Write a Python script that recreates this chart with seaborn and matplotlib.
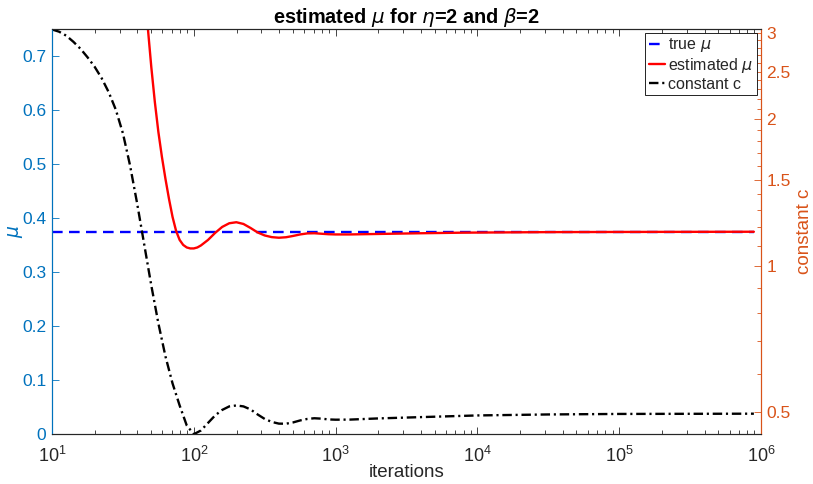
import numpy as np
import pandas as pd
import matplotlib
matplotlib.use("Agg")
import matplotlib.pyplot as plt
import seaborn as sns
from matplotlib.ticker import FixedLocator, FixedFormatter, LogLocator, NullFormatter, NullLocator

# ---- data ----
iters_c = [10, 11.22, 12.59, 14.13, 15.85, 17.78, 19.95, 22.39, 25.12, 28.18, 31.62, 35.48,
           39.81, 44.67, 50.12, 56.23, 63.10, 70.79, 79.43, 89.13, 100, 112.2, 125.9, 141.3,
           158.5, 177.8, 199.5, 223.9, 251.2, 281.8, 316.2, 354.8, 398.1, 446.7, 501.2,
           562.3, 631.0, 707.9, 794.3, 891.3, 1000, 1259, 1995, 3981, 1e4, 31623, 1e5, 891251]
c_vals = [3.053, 3.021, 2.965, 2.881, 2.788, 2.678, 2.561, 2.425, 2.269, 2.089, 1.869, 1.607,
          1.343, 1.106, 0.9112, 0.7615, 0.6513, 0.5733, 0.5166, 0.4701, 0.451, 0.4590, 0.4756, 0.4928,
          0.5058, 0.5143, 0.5166, 0.5143, 0.5070, 0.4951, 0.4847, 0.4779, 0.4741, 0.4739, 0.4768,
          0.4813, 0.4847, 0.4863, 0.4854, 0.4836, 0.4830, 0.4832, 0.4859, 0.4889, 0.4928, 0.4951, 0.4963, 0.4969]

iters_mu = [45.71, 47.32, 50.12, 53.09, 56.23, 59.57, 63.10, 66.83, 70.79, 74.99, 79.43, 84.14,
            89.13, 94.41, 100, 105.9, 112.2, 125.9, 141.3, 158.5, 177.8, 199.5, 223.9, 251.2,
            281.8, 316.2, 354.8, 398.1, 446.7, 501.2, 562.3, 631.0, 707.9, 794.3, 891.3, 1000,
            1259, 1995, 3981, 7943, 31623, 1e5, 891251]
mu_vals = [0.806, 0.7543, 0.6802, 0.6154, 0.5598, 0.5135, 0.4728, 0.4357, 0.4024, 0.3765, 0.3598, 0.3506,
           0.3459, 0.3441, 0.3441, 0.3459, 0.3496, 0.3598, 0.3728, 0.3839, 0.3907, 0.3926, 0.3894, 0.3820,
           0.3737, 0.3681, 0.3650, 0.3639, 0.3648, 0.3672, 0.3700, 0.3719, 0.3722, 0.3713, 0.3704, 0.3700,
           0.3700, 0.3709, 0.3722, 0.3733, 0.3743, 0.3746, 0.3750]

true_x = [10, 891251]
true_mu = [0.375, 0.375]

mu_ticks = [0, 0.1, 0.2, 0.3, 0.4, 0.5, 0.6, 0.7]
c_ticks = [0.5, 1, 1.5, 2, 2.5, 3]
c_tick_labels = ["0.5", "1", "1.5", "2", "2.5", "3"]
title = r"estimated $\mu$ for $\eta$=2 and $\beta$=2"
legend_labels = [r"true $\mu$", r"estimated $\mu$", "constant c"]

# ---- style ----
sns.set_theme(style="ticks")
plt.rcParams['font.family'] = ['Liberation Sans', 'DejaVu Sans']
plt.rcParams['mathtext.fontset'] = 'dejavusans'

BLUE_AX = "#0072BD"
ORANGE_AX = "#D95319"
DARK = "#262626"
FS = 12.5

fig = plt.figure(figsize=(8.13, 4.84), dpi=100)
ax = fig.add_axes([0.064, 0.1027, 0.872, 0.837])
ax.set_xscale('log')

df_true = pd.DataFrame({"it": true_x, "v": true_mu})
df_mu = pd.DataFrame({"it": iters_mu, "v": mu_vals})
df_c = pd.DataFrame({"it": iters_c, "v": c_vals})

sns.lineplot(data=df_true, x="it", y="v", ax=ax, color="#0000FF", lw=1.7,
             estimator=None, linestyle=(0, (4.5, 2.7)))
sns.lineplot(data=df_mu, x="it", y="v", ax=ax, color="#FF0000", lw=1.7, estimator=None)

ax.set_xlim(10, 1e6)
ax.set_ylim(0, 0.75)

ax2 = ax.twinx()
ax2.set_yscale('log')
sns.lineplot(data=df_c, x="it", y="v", ax=ax2, color="black", lw=1.7, estimator=None,
             linestyle=(0, (4.0, 1.6, 0.9, 1.6)))
ax2.set_ylim(0.4508, 3.057)
ax2.set_xlim(10, 1e6)

# ticks
ax.xaxis.set_major_locator(LogLocator(base=10, numticks=10))
ax.xaxis.set_minor_locator(LogLocator(base=10, subs=np.arange(2, 10), numticks=20))
ax.xaxis.set_minor_formatter(NullFormatter())
ax.set_yticks(mu_ticks)
ax.set_yticklabels([f"{t:g}" for t in mu_ticks])
ax.yaxis.set_minor_locator(NullLocator())

ax2.yaxis.set_major_locator(FixedLocator(c_ticks))
ax2.yaxis.set_major_formatter(FixedFormatter(c_tick_labels))
minor_c = [round(0.5 + 0.1 * i, 1) for i in range(26) if round(0.5 + 0.1 * i, 1) not in c_ticks]
ax2.yaxis.set_minor_locator(FixedLocator(minor_c))
ax2.yaxis.set_minor_formatter(NullFormatter())

ax.tick_params(axis='x', which='both', direction='in', top=True, bottom=True, colors=DARK,
               labelsize=FS + 0.5, width=0.6, pad=8)
ax.tick_params(axis='x', which='major', length=5)
ax.tick_params(axis='x', which='minor', length=2.8)
ax.tick_params(axis='y', which='both', direction='in', left=True, right=False, colors=BLUE_AX,
               labelsize=FS, width=0.6, length=5, pad=4)
ax2.tick_params(axis='y', which='both', direction='in', right=True, left=False, colors=ORANGE_AX,
                labelsize=FS, width=0.6, pad=4)
ax2.tick_params(axis='y', which='major', length=5)
ax2.tick_params(axis='y', which='minor', length=2.8)
ax2.tick_params(axis='x', which='both', top=False, bottom=False, labelbottom=False)

for a in (ax, ax2):
    for s in a.spines.values():
        s.set_linewidth(0.8)
    a.spines['top'].set_color(DARK)
    a.spines['bottom'].set_color(DARK)
    a.spines['left'].set_color(BLUE_AX)
    a.spines['right'].set_color(ORANGE_AX)

ax.set_xlabel("iterations", fontsize=13.5, color=DARK, labelpad=-1)
ax.set_ylabel(r"$\mu$", fontsize=13.5, color=BLUE_AX, labelpad=-2)
ax2.set_ylabel("constant c", fontsize=13.5, color=ORANGE_AX, labelpad=4)
ax.set_title(title, fontsize=14.3, fontweight='bold', color='black', pad=4)

handles = ax.get_lines()[:2] + ax2.get_lines()[:1]
leg = ax2.legend(handles, legend_labels, loc='upper right', bbox_to_anchor=(1.0, 1.0),
                 fontsize=11.5, frameon=True, fancybox=False, edgecolor='black', framealpha=1,
                 handlelength=1.0, handletextpad=0.25, borderpad=0.2, labelspacing=0.1,
                 borderaxespad=0.25)
leg.get_frame().set_linewidth(0.6)

fig.savefig("out.png", dpi=100)
